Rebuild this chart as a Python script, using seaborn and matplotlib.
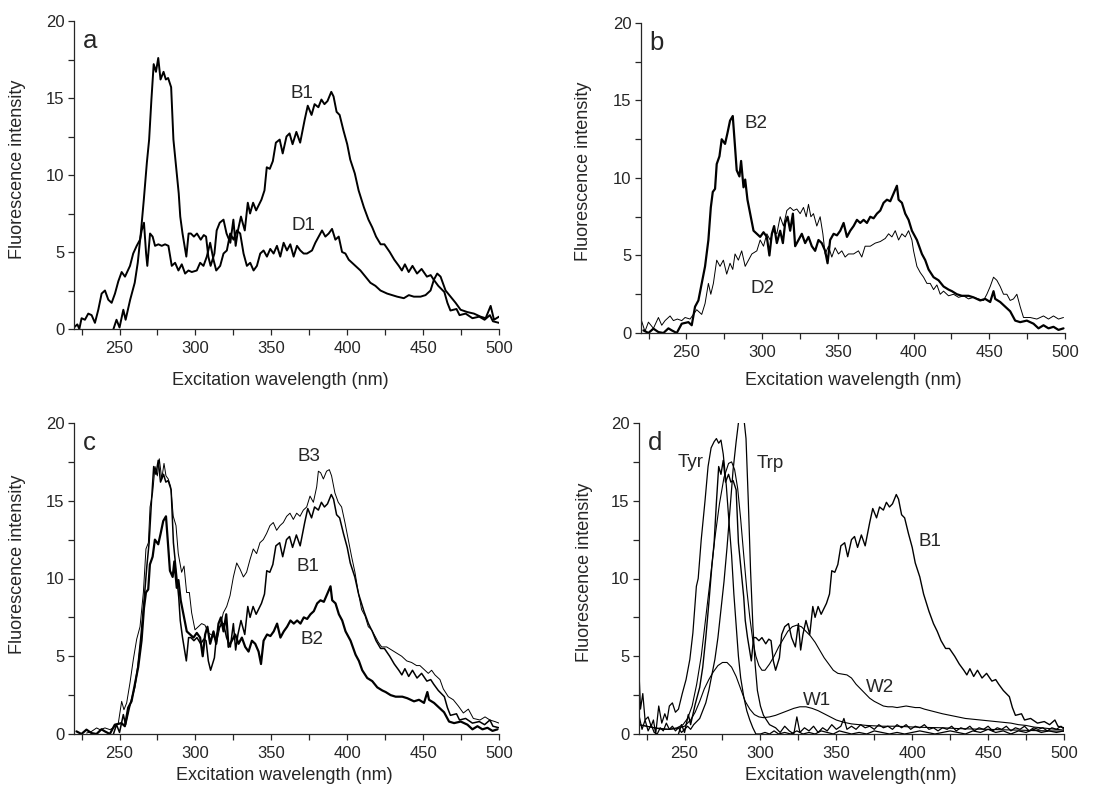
import numpy as np
import pandas as pd
import matplotlib
matplotlib.use("Agg")
import matplotlib.pyplot as plt
from matplotlib.ticker import MultipleLocator
import seaborn as sns

# spectra: [wavelength (nm), fluorescence intensity]
b1 = [[246, 0.0], [248, 0.6], [250, 0.1], [252.5, 1.25], [254, 0.6], [257, 1.9], [260, 3.0],
      [262, 4.3], [264, 6.2], [266, 8.4], [268, 10.8], [269.5, 12.3], [271, 14.9], [272.5, 17.2],
      [274, 16.7], [275.5, 17.6], [277, 16.2], [279, 16.7], [280.5, 16.2], [282, 16.3], [284, 15.7],
      [285.5, 12.3], [287, 10.8], [289, 8.8], [290, 7.3], [291.5, 6.2], [294, 4.7], [295.5, 6.2],
      [297, 6.2], [299, 6.0], [301, 6.2], [303.5, 5.8], [305.5, 6.1], [307, 6.0], [308.5, 4.7],
      [310, 4.1], [312.5, 4.9], [314, 6.4], [316, 6.9], [318.5, 7.1], [320.5, 6.2], [323, 5.6],
      [325, 7.1], [326.5, 5.4], [328, 6.4], [330, 7.3], [332.5, 6.4], [334.5, 8.2], [336, 7.5],
      [338, 8.2], [340, 7.7], [343.5, 8.4], [345.5, 9.0], [347, 10.5], [349, 10.4], [351, 10.9],
      [353, 12.1], [355.5, 12.3], [357.5, 11.4], [360, 12.5], [362, 12.7], [364, 12.0], [366.5, 12.8],
      [369, 12.1], [372, 13.6], [374, 14.5], [376.5, 13.9], [378.5, 14.6], [381, 14.4], [383, 14.9],
      [385, 14.6], [387, 14.8], [389.5, 15.4], [391, 15.1], [393, 14.1], [395, 13.9], [397.5, 12.9],
      [400, 12.0], [402, 11.0], [405, 10.1], [407.5, 9.0], [411, 7.9], [414, 7.1], [416.5, 6.6],
      [419, 6.0], [422, 5.5], [424.5, 5.5], [428, 5.0], [431, 4.5], [434, 4.1], [436, 3.8],
      [438, 4.2], [440.5, 3.7], [443, 4.1], [446, 3.6], [449, 3.9], [452.5, 3.4], [455, 3.5],
      [457, 3.2], [460, 2.8], [464, 2.4], [466, 1.7], [468, 1.2], [472, 1.3], [474, 0.9],
      [478, 1.0], [482.5, 0.7], [487, 0.8], [490.5, 0.6], [494, 0.9], [496, 0.5], [500, 0.4]]

d1 = [[220, 0.1], [222.2, 0.3], [223.5, 0.0], [225, 0.7], [227.2, 0.6], [229.4, 1.0], [231.6, 0.9],
      [233.8, 0.4], [236, 1.25], [238.2, 2.3], [240.4, 2.5], [242.6, 1.9], [244.8, 1.7], [247, 2.3],
      [249.2, 3.1], [251.4, 3.7], [253.6, 3.4], [256.9, 4.1], [259, 4.9], [261.3, 5.4], [263.5, 5.8],
      [264.6, 6.4], [266.1, 6.9], [267.5, 4.9], [268.3, 4.1], [270.1, 6.2], [271.8, 6.0], [273.4, 5.4],
      [275.6, 5.5], [277.8, 5.4], [280, 5.5], [282.2, 5.4], [284.4, 4.1], [286.6, 4.3], [288.8, 3.8],
      [291, 4.2], [293.2, 3.6], [295.4, 3.8], [297.6, 3.7], [300.9, 3.8], [303.1, 4.3], [305.3, 4.1],
      [307.5, 4.7], [309.7, 5.6], [311.9, 4.5], [313.7, 3.8], [316.3, 4.1], [318.5, 4.9], [320.7, 5.1],
      [322.9, 6.2], [325.1, 5.8], [327.3, 6.4], [329.5, 6.2], [331.7, 4.9], [333.9, 4.1], [336.1, 4.3],
      [338.3, 3.8], [340.5, 4.1], [342.7, 4.9], [344.9, 5.1], [347.1, 4.7], [349.3, 5.2], [351.5, 4.9],
      [353.7, 5.4], [355.9, 4.7], [358.1, 5.6], [360.3, 5.1], [362.5, 5.5], [364.7, 4.7], [366.9, 5.4],
      [369.1, 5.1], [371.3, 4.9], [373.5, 4.9], [376.8, 5.1], [379, 5.6], [381.2, 6.0], [383.4, 6.4],
      [385.6, 6.0], [387.8, 6.2], [390, 6.5], [392.2, 5.8], [394.4, 6.0], [396.6, 5.0], [398.8, 4.9],
      [401, 4.5], [403.2, 4.3], [405.4, 4.1], [408.7, 3.8], [412, 3.4], [415.3, 3.0], [418.6, 2.8],
      [421.9, 2.5], [426.3, 2.3], [429.6, 2.2], [432.9, 2.1], [437.3, 2.0], [440.6, 2.2], [443.9, 2.1],
      [448.3, 2.1], [451.6, 2.2], [454.9, 2.5], [457.1, 3.2], [459.3, 3.6], [461.5, 3.4], [464.8, 2.5],
      [468.1, 2.1], [471.4, 1.7], [474.7, 1.25], [479.1, 1.1], [483.5, 1.0], [487.9, 0.8], [491.2, 0.7],
      [494.5, 1.5], [496.7, 0.6], [500, 0.8]]

b2 = [[221.6, 0.17], [224.9, 0.0], [228.2, 0.28], [231.5, 0.06], [234.8, 0.0], [238.1, 0.3],
      [240.3, 0.17], [243.6, 0.0], [246.9, 0.6], [251.3, 0.7], [253.5, 0.5], [255.7, 1.7], [257.9, 2.1],
      [260.1, 3.2], [262.3, 4.3], [264.5, 6.0], [266.1, 8.1], [267.4, 9.1], [268.9, 9.3], [270.0, 10.9],
      [271.8, 11.4], [273.3, 12.5], [275.5, 12.2], [277.1, 12.9], [278.8, 13.7], [280.6, 14.0],
      [282.1, 12.0], [283.2, 10.5], [285.0, 10.1], [286.1, 11.1], [287.7, 9.4], [288.8, 9.9],
      [290.3, 8.6], [292.1, 7.7], [294.3, 6.6], [296.5, 6.4], [298.7, 6.2], [300.9, 6.5], [303.1, 6.2],
      [304.8, 5.0], [306.4, 6.4], [307.9, 6.9], [309.7, 5.8], [311.9, 6.6], [313.7, 5.8], [315.2, 7.1],
      [316.8, 7.5], [318.5, 6.6], [320.3, 7.7], [321.8, 5.6], [324.0, 6.0], [326.2, 6.4], [328.4, 5.8],
      [330.6, 6.2], [332.8, 5.6], [335.0, 5.3], [337.2, 6.0], [339.4, 5.8], [341.6, 5.3], [343.2, 4.5],
      [344.9, 6.0], [347.2, 6.4], [349.4, 6.3], [351.6, 6.6], [353.8, 7.1], [356.0, 6.2], [358.2, 6.6],
      [360.4, 6.9], [362.6, 7.3], [364.8, 7.1], [367.0, 7.3], [369.2, 7.1], [371.4, 7.5], [373.6, 7.4],
      [375.8, 7.7], [378.0, 7.9], [380.2, 8.4], [382.4, 8.6], [384.6, 8.5], [386.8, 9.0], [389.0, 9.5],
      [390.1, 8.6], [392.3, 8.4], [394.5, 7.7], [396.7, 7.3], [398.9, 6.6], [402.2, 6.0], [405.5, 5.1],
      [407.7, 4.7], [409.9, 4.1], [413.2, 3.6], [416.5, 3.4], [419.8, 3.0], [423.1, 2.8], [425.3, 2.7],
      [428.6, 2.5], [431.9, 2.4], [436.3, 2.4], [439.6, 2.3], [444.0, 2.1], [447.3, 2.2], [450.6, 2.0],
      [452.8, 2.7], [453.9, 2.2], [457.2, 2.0], [460.5, 1.7], [463.8, 1.4], [467.1, 0.8], [470.4, 0.7],
      [474.8, 0.8], [479.2, 0.6], [482.5, 0.3], [485.8, 0.5], [489.1, 0.3], [492.4, 0.4], [495.7, 0.2],
      [499.0, 0.3]]

d2 = [[220, 0.9], [222.6, 0.1], [224.9, 0.7], [228.2, 0.3], [231.5, 1.0], [233.7, 0.5], [235.9, 0.8],
      [239.2, 1.1], [241.4, 0.8], [244.0, 0.9], [246.9, 0.8], [249.1, 1.0], [252.4, 0.9], [254.6, 1.2],
      [256.8, 1.5], [260.1, 1.2], [262.3, 1.9], [264.5, 3.2], [266.1, 2.5], [267.8, 3.2], [270.0, 4.7],
      [272.2, 4.3], [274.4, 4.7], [276.6, 3.8], [278.8, 4.5], [280.6, 4.1], [282.1, 5.1], [284.3, 4.7],
      [286.5, 5.3], [288.8, 4.3], [291.0, 4.7], [293.2, 5.1], [296.5, 5.3], [298.7, 6.0], [300.9, 5.6],
      [303.1, 6.4], [305.3, 6.0], [307.5, 6.6], [309.7, 6.4], [311.9, 7.5], [314.1, 6.9], [316.3, 7.9],
      [318.5, 8.1], [320.7, 7.9], [322.9, 8.0], [325.1, 7.7], [327.3, 8.1], [329.1, 7.5], [330.6, 8.3],
      [332.2, 7.5], [333.9, 7.7], [336.1, 6.9], [338.3, 7.5], [340.1, 6.4], [341.6, 5.1], [343.8, 5.6],
      [346.0, 4.9], [348.2, 5.5], [350.4, 5.1], [352.6, 5.3], [354.8, 4.9], [357.0, 5.1], [360.4, 5.1],
      [363.6, 5.3], [365.8, 4.9], [368.0, 5.6], [371.4, 5.6], [374.7, 5.8], [378.0, 5.9], [381.3, 6.1],
      [383.5, 6.4], [385.7, 6.2], [387.9, 6.6], [390.1, 6.0], [392.3, 6.4], [394.5, 6.2], [396.7, 6.6],
      [398.9, 6.0], [400.0, 5.3], [402.2, 4.3], [404.4, 3.9], [406.6, 3.6], [408.8, 3.2], [411.0, 3.2],
      [413.2, 2.8], [415.4, 3.1], [417.6, 2.5], [419.8, 2.7], [423.1, 2.4], [426.4, 2.5], [429.7, 2.3],
      [433.0, 2.4], [436.3, 2.2], [439.6, 2.3], [442.9, 2.2], [446.2, 2.1], [448.4, 2.5], [450.6, 3.0],
      [452.8, 3.6], [455.0, 3.4], [457.2, 3.0], [459.4, 2.5], [461.6, 2.5], [463.8, 2.1], [466.0, 2.2],
      [468.2, 2.5], [470.4, 1.7], [472.6, 1.0], [477.0, 1.0], [481.4, 0.9], [485.8, 1.1], [489.1, 0.9],
      [492.4, 1.1], [495.7, 0.9], [499.0, 1.0]]

b3 = [[228.3, 0.06], [231.6, 0.17], [234.9, 0.39], [237.1, 0.28], [240.4, 0.39], [243.7, 0.28],
      [245.9, 0.4], [249.2, 0.7], [251.4, 2.1], [252.9, 1.56], [254.7, 2.0], [256.9, 3.3], [259.1, 4.8],
      [261.3, 6.1], [263.5, 6.9], [265.7, 9.1], [267.4, 11.9], [269.0, 12.3], [270.1, 14.6], [271.8, 15.5],
      [273.4, 17.2], [274.9, 16.6], [276.2, 17.7], [277.8, 16.4], [279.3, 17.4], [280.6, 16.6],
      [282.1, 16.4], [283.7, 15.9], [285.4, 14.0], [287.2, 13.4], [288.7, 11.6], [290.9, 10.4],
      [292.5, 10.8], [294.2, 9.1], [296.0, 9.1], [297.5, 7.8], [299.7, 6.7], [301.9, 6.9], [304.1, 7.1],
      [306.3, 7.0], [308.5, 6.5], [311.8, 6.3], [314.0, 5.9], [316.2, 6.9], [318.4, 7.8], [320.6, 8.2],
      [322.8, 8.9], [325.0, 10.1], [327.2, 11.0], [329.4, 10.6], [331.6, 10.1], [333.7, 10.4],
      [335.9, 11.2], [338.1, 11.9], [340.3, 11.6], [342.5, 12.3], [344.7, 12.5], [346.9, 12.9],
      [349.1, 13.4], [351.3, 13.6], [353.5, 13.1], [355.7, 13.4], [357.9, 13.6], [360.1, 14.0],
      [362.3, 14.2], [364.5, 13.8], [366.7, 14.2], [368.9, 14.0], [371.1, 14.4], [373.3, 14.6],
      [375.5, 15.3], [377.7, 14.9], [379.9, 15.9], [381.0, 16.9], [382.5, 16.8], [384.3, 16.4],
      [386.4, 16.9], [388.2, 17.0], [389.7, 16.6], [391.9, 15.5], [394.1, 14.9], [396.3, 14.6],
      [398.5, 13.6], [400.7, 12.5], [402.9, 11.4], [405.1, 10.4], [407.3, 9.1], [409.5, 8.0],
      [411.7, 7.6], [413.9, 6.9], [416.1, 6.7], [418.3, 6.3], [420.5, 5.9], [422.7, 5.6], [426.0, 5.6],
      [429.3, 5.4], [432.6, 5.2], [435.9, 5.0], [439.2, 4.7], [442.4, 4.6], [445.7, 4.4], [447.9, 4.4],
      [451.2, 4.1], [453.4, 3.9], [455.6, 4.1], [457.8, 3.8], [461.1, 3.5], [463.3, 2.9], [466.6, 2.4],
      [469.9, 2.2], [473.2, 1.8], [476.5, 1.35], [479.8, 1.6], [483.1, 1.0], [487.5, 0.9], [490.8, 1.1],
      [494.0, 0.9], [497.3, 0.8], [500, 0.7]]

tyr = [[220, 4.0], [221, 1.6], [222.5, 2.6], [224, 0.9], [226, 1.1], [228, 0.5], [229.5, 0.9],
       [231, 0.0], [233, 1.8], [235, 0.7], [237, 1.3], [238.5, 0.9], [240, 1.8], [242, 2.0], [244, 1.4],
       [246, 1.6], [248.5, 2.6], [251, 3.5], [253.5, 4.8], [255.5, 6.5], [257.8, 9.5], [259, 10.0],
       [261, 12.5], [263.5, 15.0], [265.5, 17.2], [267.5, 18.4], [269.5, 18.8], [271, 19.0],
       [272.5, 18.7], [274, 18.9], [275.5, 18.0], [277.5, 16.0], [279, 14.0], [281, 11.5], [282.5, 9.0],
       [284, 7.0], [285.5, 5.0], [287, 3.6], [289, 2.4], [291, 1.5], [293, 0.9], [295, 0.4], [297, 0.0],
       [300, 0.0], [303, 0.1], [306, 0.0], [309, 0.2], [312, 0.0], [316, 0.1], [320, 0.0], [324, 0.2],
       [328, 0.0], [332, 0.1], [336, 0.0], [340, 0.2], [344, 0.1], [348, 0.0], [352, 0.2], [356, 0.1],
       [360, 0.0], [365, 0.1], [370, 0.0], [375, 0.2], [380, 0.1], [385, 0.0], [390, 0.1], [395, 0.0],
       [400, 0.1], [405, 0.2], [410, 0.1], [415, 0.0], [420, 0.1], [425, 0.2], [430, 0.1], [435, 0.0],
       [440, 0.2], [445, 0.1], [450, 0.3], [455, 0.1], [460, 0.2], [465, 0.0], [470, 0.2], [475, 0.1],
       [480, 0.3], [485, 0.1], [490, 0.2], [495, 0.1], [500, 0.2]]

trp = [[220, 1.2], [222, 0.3], [224, 0.9], [226, 0.2], [228, 0.6], [230, 0.1], [232, 0.0], [234, 0.4],
       [236, 0.2], [238, 0.7], [240, 0.3], [242, 0.5], [244, 0.2], [246, 0.4], [248, 0.1], [250, 0.3],
       [252, 0.5], [254, 0.3], [256, 0.6], [258, 0.8], [260, 1.0], [262, 1.5], [264, 2.0], [266, 2.8],
       [268, 3.8], [270, 4.8], [272, 6.2], [274, 8.0], [276, 9.8], [278, 12.0], [280, 14.5], [282, 17.0],
       [284, 18.8], [285.5, 20.0], [287, 20.6], [289, 20.4], [290.5, 19.0], [292, 15.0], [293.5, 10.5],
       [295, 7.0], [296.5, 4.5], [298, 2.8], [300, 1.8], [302, 1.2], [304, 0.9], [306, 0.6], [308, 0.5],
       [310, 0.4], [313, 0.1], [316, 0.5], [319, 0.2], [322, 0.0], [324, 1.1], [326, 0.1], [329, 0.4],
       [332, 0.2], [335, 0.5], [338, 0.1], [341, 0.4], [344, 0.2], [347, 0.6], [350, 0.3], [353, 0.5],
       [355, 1.0], [357, 0.3], [360, 0.5], [363, 0.3], [366, 0.6], [369, 0.4], [372, 0.5], [375, 0.3],
       [378, 0.6], [381, 0.4], [384, 0.5], [387, 0.3], [390, 0.6], [393, 0.4], [396, 0.6], [399, 0.3],
       [402, 0.5], [405, 0.4], [408, 0.6], [411, 0.3], [414, 0.4], [417, 0.2], [420, 0.4], [423, 0.3],
       [426, 0.5], [429, 0.2], [432, 0.4], [435, 0.3], [438, 0.5], [441, 0.2], [444, 0.4], [447, 0.3],
       [450, 0.5], [453, 0.2], [456, 0.4], [459, 0.3], [462, 0.5], [465, 0.2], [468, 0.4], [471, 0.3],
       [474, 0.5], [477, 0.2], [480, 0.4], [483, 0.3], [486, 0.4], [489, 0.2], [492, 0.4], [495, 0.3],
       [498, 0.5], [500, 0.3]]

w1 = [[220, 0.6], [225, 0.5], [230, 0.4], [235, 0.3], [240, 0.3], [245, 0.35], [250, 0.5], [254, 0.9],
      [257, 1.4], [260, 2.1], [263, 2.9], [266, 3.5], [269, 4.0], [272, 4.4], [275, 4.6], [278, 4.6],
      [281, 4.3], [284, 3.7], [287, 2.9], [290, 2.1], [293, 1.6], [296, 1.25], [299, 1.1], [302, 1.05],
      [306, 1.1], [310, 1.2], [314, 1.35], [318, 1.5], [322, 1.65], [326, 1.75], [330, 1.75], [334, 1.65],
      [338, 1.5], [342, 1.3], [346, 1.1], [350, 0.9], [355, 0.75], [360, 0.65], [370, 0.55], [380, 0.5],
      [390, 0.5], [400, 0.45], [410, 0.42], [420, 0.4], [430, 0.35], [440, 0.32], [450, 0.3], [460, 0.27],
      [470, 0.25], [480, 0.22], [490, 0.2], [500, 0.18]]

w2 = [[220, 0.6], [225, 0.5], [230, 0.4], [235, 0.35], [240, 0.3], [245, 0.4], [249, 0.6], [252, 1.0],
      [255, 1.8], [258, 3.2], [261, 5.0], [264, 7.5], [267, 10.0], [270, 12.6], [273, 14.8], [276, 16.5],
      [279, 17.4], [281, 17.5], [283, 17.0], [285, 15.8], [287, 13.8], [289, 11.5], [291, 9.3], [293, 7.5],
      [295, 6.0], [297, 5.0], [299, 4.4], [301, 4.1], [303, 4.1], [306, 4.5], [309, 5.0], [312, 5.6],
      [315, 6.1], [318, 6.6], [321, 6.9], [324, 7.0], [327, 6.9], [330, 6.6], [333, 6.3], [336, 5.9],
      [339, 5.4], [342, 4.9], [345, 4.5], [348, 4.1], [351, 3.9], [354, 3.85], [357, 3.8], [360, 3.6],
      [363, 3.2], [366, 2.9], [369, 2.6], [372, 2.3], [375, 2.1], [378, 1.95], [381, 1.8], [384, 1.75],
      [387, 1.75], [390, 1.7], [393, 1.75], [396, 1.8], [399, 1.75], [402, 1.7], [405, 1.7], [408, 1.6],
      [412, 1.5], [416, 1.4], [420, 1.3], [425, 1.2], [430, 1.1], [435, 1.0], [440, 0.95], [445, 0.9],
      [450, 0.85], [455, 0.8], [460, 0.75], [465, 0.7], [470, 0.6], [475, 0.55], [480, 0.45], [485, 0.4],
      [490, 0.35], [495, 0.3], [500, 0.25]]

sns.set_style("ticks")
plt.rcParams['font.family'] = ['Liberation Sans', 'DejaVu Sans']
plt.rcParams['axes.linewidth'] = 0.9

W, H = 1117, 791
fig = plt.figure(figsize=(W / 100, H / 100), dpi=100)

# axes boxes in pixels: left, top, right, bottom
boxes = {'a': (74, 21, 499, 329), 'b': (641, 23, 1065, 333),
         'c': (74, 423, 499, 734), 'd': (639, 423, 1064, 734)}
# axis-label centres in axes fractions: (xlabel x, xlabel y, ylabel x, ylabel y)
label_pos = {'a': (0.485, -0.166, -0.132, 0.52), 'b': (0.50, -0.153, -0.135, 0.52),
             'c': (0.496, -0.135, -0.132, 0.545), 'd': (0.499, -0.135, -0.129, 0.519)}


def make_ax(key):
    l, t, r, b = boxes[key]
    ax = fig.add_axes([l / W, 1 - b / H, (r - l) / W, (b - t) / H])
    ax.set_xlim(220, 500)
    ax.set_ylim(0, 20)
    ax.xaxis.set_major_locator(MultipleLocator(50))
    ax.xaxis.set_minor_locator(MultipleLocator(25))
    ax.yaxis.set_major_locator(MultipleLocator(5))
    ax.yaxis.set_minor_locator(MultipleLocator(2.5))
    ax.tick_params(which='both', direction='out', length=4, width=0.9)
    ax.tick_params(axis='x', which='major', labelsize=12, pad=4.5)
    ax.tick_params(axis='y', which='major', labelsize=12, pad=3)
    sns.despine(ax=ax)
    ax.text(0.02, 0.912, key, transform=ax.transAxes, fontsize=18.5, va='baseline')
    return ax


def curve(ax, data, lw):
    df = pd.DataFrame(data, columns=['wl', 'inten'])
    sns.lineplot(data=df, x='wl', y='inten', ax=ax, color='black', lw=lw,
                 estimator=None, sort=False)


def labels(ax, key, xlabel="Excitation wavelength (nm)"):
    xx, xy, yx, yy = label_pos[key]
    ax.set_xlabel(xlabel, fontsize=13)
    ax.set_ylabel("Fluorescence intensity", fontsize=13)
    ax.xaxis.set_label_coords(xx, xy)
    ax.yaxis.set_label_coords(yx, yy)
    ax.xaxis.label.set_va('center')
    ax.yaxis.label.set_va('center')


lab = dict(fontsize=13.5, ha='center', va='center')

ax = make_ax('a')
curve(ax, d1, 1.4)
curve(ax, b1, 1.4)
ax.text(370, 15.3, "B1", **lab)
ax.text(371, 6.7, "D1", **lab)
labels(ax, 'a')

ax = make_ax('b')
curve(ax, d2, 0.7)
curve(ax, b2, 1.6)
ax.text(296, 13.5, "B2", **lab)
ax.text(300, 2.9, "D2", **lab)
labels(ax, 'b')

ax = make_ax('c')
curve(ax, b3, 0.7)
curve(ax, b1, 1.1)
curve(ax, b2, 1.6)
ax.text(375, 17.85, "B3", **lab)
ax.text(374, 10.8, "B1", **lab)
ax.text(376.5, 6.1, "B2", **lab)
labels(ax, 'c')

ax = make_ax('d')
curve(ax, w1, 0.8)
curve(ax, w2, 0.8)
curve(ax, tyr, 0.9)
curve(ax, trp, 0.9)
curve(ax, b1, 1.0)
ax.text(254, 17.45, "Tyr", **lab)
ax.text(306.5, 17.4, "Trp", **lab)
ax.text(411.5, 12.4, "B1", **lab)
ax.text(379, 3.0, "W2", **lab)
ax.text(337, 2.15, "W1", **lab)
labels(ax, 'd', "Excitation wavelength(nm)")

fig.savefig("out.png", dpi=100)
